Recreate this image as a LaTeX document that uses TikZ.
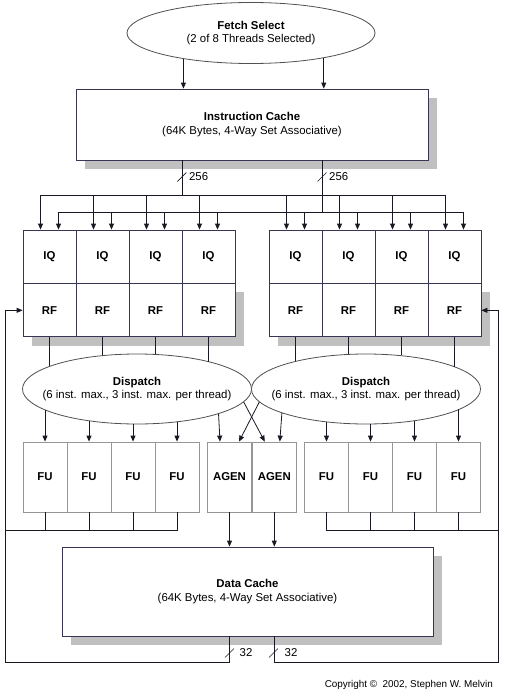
\documentclass[tikz,border=0pt]{standalone}
\usepackage{fontspec}
\setmainfont{Liberation Sans}
\usetikzlibrary{arrows.meta, positioning, backgrounds, shapes.geometric}
\definecolor{shadowgray}{RGB}{192,192,192}
\definecolor{boxline}{RGB}{55,55,85}
\definecolor{ovalline}{RGB}{80,80,80}
\definecolor{fuline}{RGB}{150,150,150}
\definecolor{wire}{RGB}{25,25,35}

\begin{document}
\begin{tikzpicture}[x=1pt, y=-1pt,
        every node/.style={font=\fontsize{11.4}{13.8}\selectfont},
        link/.style={draw=wire, line width=0.8pt},
        arrow/.style={link, -{Triangle[length=6pt, width=5pt]}},
        bigbox/.style={draw=boxline, fill=white, line width=0.8pt, align=center, inner sep=0},
        oval/.style={ellipse, draw=ovalline, fill=white, line width=0.8pt, align=center,
            inner xsep=-25pt, inner ysep=0pt},
        cell/.style={draw=boxline, fill=white, line width=0.8pt, inner sep=0,
            minimum width=53pt, minimum height=53pt, font=\fontsize{11.4}{13.8}\selectfont\bfseries},
        unit/.style={cell, draw=fuline, minimum width=44pt, minimum height=70pt},
        shadowbox/.style={fill=shadowgray},
        width label/.style={anchor=west, inner sep=0}
    ]
    \useasboundingbox (0,0) rectangle (504,699);

    % fetch and instruction cache
    \node[oval, minimum width=248pt, minimum height=61pt] (fetch) at (251,33)
        {\textbf{Fetch Select}\\(2 of 8 Threads Selected)};
    \node[bigbox, minimum width=352pt, minimum height=71pt] (icache) at (252,124.5)
        {\textbf{Instruction Cache}\\(64K Bytes, 4-Way Set Associative)};
    \draw[arrow] (fetch.-159.9) -- (fetch.-159.9 |- icache.north);
    \draw[arrow] (fetch.-19.4) -- (fetch.-19.4 |- icache.north);

    % IQ / RF blocks
    \foreach \i in {1,...,4} {
        \node[cell] (iqL\i) at ({49.5+53*(\i-1)},256.5) {IQ};
        \node[cell, below=0pt of iqL\i] (rfL\i) {RF};
        \node[cell] (iqR\i) at ({295.5+53*(\i-1)},256.5) {IQ};
        \node[cell, below=0pt of iqR\i] (rfR\i) {RF};
    }

    % fetch buses
    \coordinate (tapL) at (181.9,195);
    \coordinate (tapR) at (322,212);
    \draw[link] (icache.south -| tapL) -- (tapL);
    \draw[link] (icache.south -| tapR) -- (tapR);
    \draw[link] ([xshift=-9pt]iqL1.north |- tapL) -- ([xshift=-9pt]iqR4.north |- tapL);
    \draw[link] ([xshift=9pt]iqL1.north |- tapR) -- ([xshift=9pt]iqR4.north |- tapR);
    \foreach \s in {L,R}
        \foreach \i in {1,...,4} {
            \draw[arrow] ([xshift=-9pt]iq\s\i.north |- tapL) -- ([xshift=-9pt]iq\s\i.north);
            \draw[arrow] ([xshift=9pt]iq\s\i.north |- tapR) -- ([xshift=9pt]iq\s\i.north);
        }
    \coordinate (wL) at (181.9,177);
    \coordinate (wR) at (322,177);
    \draw[link, line width=0.6pt] ([shift={(-4.5,4.5)}]wL) -- ([shift={(4.5,-4.5)}]wL);
    \draw[link, line width=0.6pt] ([shift={(-4.5,4.5)}]wR) -- ([shift={(4.5,-4.5)}]wR);
    \node[width label] (nL) at ([xshift=7pt]wL) {256};
    \node[width label] (nR) at ([xshift=7pt]wR) {256};

    % dispatch
    \node[oval, minimum width=229pt, minimum height=70pt] (dispL) at (137,389)
        {\textbf{Dispatch}\\(6 inst. max., 3 inst. max. per thread)};
    \node[oval, minimum width=229pt, minimum height=70pt] (dispR) at (366,389)
        {\textbf{Dispatch}\\(6 inst. max., 3 inst. max. per thread)};
    \foreach \i/\a in {1/165.5, 2/135.9, 3/61.8, 4/20.9}
        \draw[link] (rfL\i.south) -- (rfL\i.south |- dispL.\a);
    \foreach \i/\a in {1/158.6, 2/116.8, 3/43.2, 4/14.1}
        \draw[link] (rfR\i.south) -- (rfR\i.south |- dispR.\a);

    % functional units
    \foreach \i in {1,...,4} {
        \node[unit] (fuL\i) at ({45+44*(\i-1)},477) {FU};
        \node[unit] (fuR\i) at ({326.5+44*(\i-1)},477) {FU};
    }
    \node[unit] (agen1) at (229.5,477) {AGEN};
    \node[unit, right=0pt of agen1] (agen2) {AGEN};
    \foreach \i/\a in {1/-167.3, 2/-146.5, 3/-96.5, 4/-39.4}
        \draw[arrow] (fuL\i.north |- dispL.\a) -- (fuL\i.north);
    \foreach \i/\a in {1/-140.3, 2/-82.7, 3/-33.2, 4/-12.6}
        \draw[arrow] (fuR\i.north |- dispR.\a) -- (fuR\i.north);
    \draw[arrow] (dispL.-17) -- ([xshift=-9.5pt]agen1.north);
    \draw[arrow] (dispL.-7) -- ([xshift=-9.5pt]agen2.north);
    \draw[arrow] (dispR.-173) -- ([xshift=9.5pt]agen1.north);
    \draw[arrow] (dispR.-164.5) -- ([xshift=5.5pt]agen2.north);

    % data cache
    \node[bigbox, minimum width=371pt, minimum height=89pt] (dcache) at (247.5,591.5)
        {\textbf{Data Cache}\\(64K Bytes, 4-Way Set Associative)};
    \draw[arrow] (agen1.south) -- (agen1.south |- dcache.north);
    \draw[arrow] (agen2.south) -- (agen2.south |- dcache.north);

    % result and load feedback
    \coordinate (joinL) at (5,530);
    \coordinate (joinR) at (498,530);
    \coordinate (loopL) at (5,662);
    \coordinate (loopR) at (498,662);
    \draw[link] (joinL) -| (fuL4.south);
    \foreach \i in {1,2,3}
        \draw[link] (fuL\i.south) -- (fuL\i.south |- joinL);
    \draw[link] (joinR) -| (fuR1.south);
    \foreach \i in {2,3,4}
        \draw[link] (fuR\i.south) -- (fuR\i.south |- joinR);
    \draw[arrow] (dcache.south -| agen1.south) |- (loopL) |- (rfL1.west);
    \draw[arrow] (dcache.south -| agen2.south) |- (loopR) |- (rfR4.east);
    \coordinate (dL) at (229.5,653);
    \coordinate (dR) at (273.5,653);
    \draw[link, line width=0.6pt] ([shift={(-4.5,4.5)}]dL) -- ([shift={(4.5,-4.5)}]dL);
    \draw[link, line width=0.6pt] ([shift={(-4.5,4.5)}]dR) -- ([shift={(4.5,-4.5)}]dR);
    \node[width label] (mL) at ([xshift=10pt]dL) {32};
    \node[width label] (mR) at ([xshift=11pt]dR) {32};

    \node[anchor=east, inner sep=0, font=\fontsize{9.9}{12}\selectfont] (copy) at (493,685)
        {Copyright \textcopyright\ \ 2002, Stephen W. Melvin};

    % shadows
    \begin{scope}[on background layer]
        \fill[shadowbox] ([shift={(9,9)}]icache.north west) rectangle ([shift={(9,9)}]icache.south east);
        \fill[shadowbox] ([shift={(9,9)}]rfL1.north west) rectangle ([shift={(9,9)}]rfL4.south east);
        \fill[shadowbox] ([shift={(9,9)}]rfR1.north west) rectangle ([shift={(9,9)}]rfR4.south east);
        \fill[shadowbox] ([shift={(9,9)}]dcache.north west) rectangle ([shift={(9,9)}]dcache.south east);
    \end{scope}
\end{tikzpicture}
\end{document}
